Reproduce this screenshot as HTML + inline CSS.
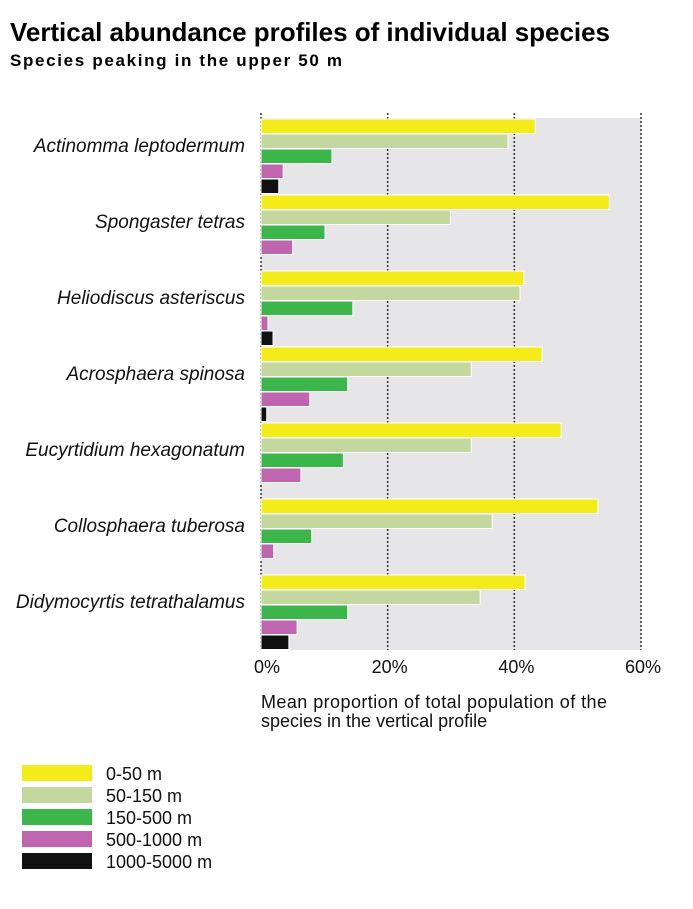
<!DOCTYPE html>
<html><head><meta charset="utf-8"><style>
body{margin:0;background:#fff;font-family:"Liberation Sans",Arial,sans-serif}
svg{display:block}
</style></head><body>
<svg width="693" height="909" viewBox="0 0 693 909">
<text x="10" y="41" font-size="26" font-weight="bold" fill="#000" textLength="600">Vertical abundance profiles of individual species</text>
<text x="10" y="66" font-size="17" font-weight="bold" fill="#000" textLength="332">Species peaking in the upper 50 m</text>
<rect x="261" y="118" width="380" height="532" fill="#e6e6e8"/>
<g id="grid"></g>
<g id="bars"></g>
<g id="labels"></g>
<g id="ticks"></g>
<text x="261" y="708" font-size="18" fill="#111" textLength="346">Mean proportion of total population of the</text>
<text x="261" y="727" font-size="18" fill="#111">species in the vertical profile</text>
<g id="legend"></g>
</svg>
<script>
const species=["Actinomma leptodermum","Spongaster tetras","Heliodiscus asteriscus","Acrosphaera spinosa","Eucyrtidium hexagonatum","Collosphaera tuberosa","Didymocyrtis tetrathalamus"];
const seriesNames=["0-50 m","50-150 m","150-500 m","500-1000 m","1000-5000 m"];
const s0=[43.3,55,41.5,44.4,47.4,53.2,41.7];
const s1=[39,29.9,40.9,33.2,33.2,36.5,34.6];
const s2=[11.2,10.1,14.5,13.7,13,8,13.7];
const s3=[3.5,5,1.1,7.7,6.3,2,5.7];
const s4=[2.8,0,1.9,0.9,0,0,4.4];
const tickVals=[0,20,40,60];
const tickLabels=["0%","20%","40%","60%"];
const colors=["#f4ec1a","#c3d89f","#3cb64b","#c066b0","#111111"];
const series=[s0,s1,s2,s3,s4];
const NS="http://www.w3.org/2000/svg";
const x=v=>261+v*(380/60);
const gy=i=>118+i*76;
function mk(tag,attrs,parent){const e=document.createElementNS(NS,tag);for(const k in attrs)e.setAttribute(k,attrs[k]);document.getElementById(parent).appendChild(e);return e;}
tickVals.forEach((t,i)=>{
  const l=mk("line",{x1:x(t),x2:x(t),y1:113,y2:650,stroke:"#333","stroke-width":1.5,"stroke-dasharray":"2,2"},"grid");
  
  
  const tx=mk("text",{x:x(t)+(i==0?6:2),y:673,"font-size":18,"text-anchor":"middle",fill:"#111"},"ticks");
  tx.textContent=tickLabels[i];
  
  
});
species.forEach((sp,i)=>{
  series.forEach((s,j)=>{
    if(s[i]<=0)return;
    const r=mk("rect",{x:261,y:gy(i)+1+j*15,width:x(s[i])-261,height:14.5,fill:colors[j],stroke:"#fff","stroke-width":1},"bars");
    
    
  });
  const t=mk("text",{x:245,y:gy(i)+34,"font-size":19,"font-style":"italic","text-anchor":"end",fill:"#111"},"labels");
  t.textContent=sp;
  
  
});
seriesNames.forEach((n,j)=>{
  const r=mk("rect",{x:22,y:765+j*22,width:70,height:16,fill:colors[j]},"legend");
  
  
  const t=mk("text",{x:106,y:780+j*22,"font-size":18,fill:"#111"},"legend");
  t.textContent=n;
  
  
});
</script>
</body></html>
